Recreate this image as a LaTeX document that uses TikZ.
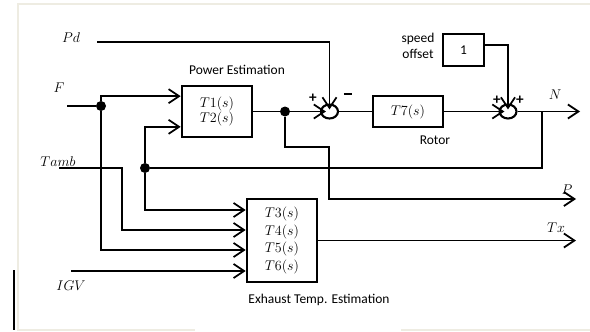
\documentclass[tikz,border=0pt]{standalone}
\usepackage{fontspec}
\setmainfont{Carlito}
\usetikzlibrary{arrows.meta,shapes.geometric}
\definecolor{framegray}{RGB}{238,236,226}

\begin{document}
\begin{tikzpicture}[x=0.03cm,y=-0.03cm,>={Straight Barb[length=9pt,width=12pt]},
  every node/.append style={font=\fontsize{11.5}{13.5}\selectfont},
  wire/.style={line width=1.5pt},
  blk/.style={draw,line width=2.2pt,align=center,inner sep=0pt},
  sumj/.style={draw,ellipse,line width=1.8pt,minimum width=5.1mm,minimum height=4.2mm,inner sep=0pt},
  dot/.style={circle,fill=black,inner sep=0pt,minimum size=3mm},
  sign/.style={font=\bfseries\fontsize{13}{13}\selectfont}]
  \useasboundingbox (0,0) rectangle (590,331);
  \draw[framegray,line width=1.5pt] (195,330) -- (18,330) -- (18,4) -- (590,4);
  \draw[framegray,line width=1.5pt] (401,330) -- (590,330);
  \draw[line width=1.8pt] (14,270) -- (14,330);

  \node[blk,minimum width=21mm,minimum height=15.3mm] (pe) at (217,111.5) {$T1(s)$\\$T2(s)$};
  \node (pelab) at (237,70) {Power Estimation};
  \node[blk,minimum width=21mm,minimum height=24.9mm] (ex) at (282,240.5)
    {$T3(s)$\\[1.5pt]$T4(s)$\\[1.5pt]$T5(s)$\\[1.5pt]$T6(s)$};
  \node (exlab) at (319,300) {Exhaust Temp. Estimation};
  \node[blk,minimum width=21mm,minimum height=9.3mm] (rot) at (408,111.5) {$T7(s)$};
  \node (rotlab) at (435,140) {Rotor};
  \node[blk,minimum width=12.3mm,minimum height=9.6mm] (off) at (463.5,50) {1};
  \node[align=center] (offlab) at (418,46) {speed\\offset};

  \node[sumj] (s1) at (329.5,111.5) {};
  \node[sumj] (s2) at (508,111.5) {};
  \node[sign] at (313,98) {+};
  \node[sign] at (348,96) {\rule[0.25em]{0.55em}{1.6pt}};
  \node[sign] at (497,100) {+};
  \node[sign] at (520,100) {+};

  \node[dot] (dF) at (101,106) {};
  \node[dot] (dT) at (145,168) {};
  \node[dot] (dP) at (285,111.5) {};

  \node (pdlab) at (71,38) {$Pd$};
  \node (flab) at (59,88) {$F$};
  \node (tlab) at (58,162) {$Tamb$};
  \node (iglab) at (71,286) {$IGV$};
  \node (nlab) at (555,95) {$N$};
  \node (plab) at (567,190) {$P$};
  \node (txlab) at (556,228) {$Tx$};

  \coordinate (pdin) at (97,42);
  \coordinate (fin) at (67,106);
  \coordinate (tin) at (59,168);
  \coordinate (tbend) at (122,168);
  \coordinate (iin) at (71,271);
  \coordinate (pbend) at (329,147);
  \coordinate (pout) at (576,199);
  \coordinate (txout) at (576,240.5);
  \coordinate (nfb) at (542,111.5);
  \coordinate (nout) at (580,111.5);

  \draw[wire,->,shorten >=-1.8mm] (pdin) -| (s1.north);
  \draw[wire] (fin) -- (dF);
  \draw[wire,->] (dF) |- ([yshift=4.6mm]pe.west);
  \draw[wire,->] (dT) |- ([yshift=-4.6mm]pe.west);
  \draw[wire,->] (dT) |- ([yshift=9.15mm]ex.west);
  \draw[wire,->] (tin) -- (tbend) |- ([yshift=3.15mm]ex.west);
  \draw[wire,->] (dF) |- ([yshift=-2.85mm]ex.west);
  \draw[wire,->] (iin) -- (iin -| ex.west);
  \draw[wire] (pe) -- (dP);
  \draw[wire,->,shorten >=-1.8mm] (dP) -- (s1);
  \draw[wire,->] (dP) |- (pbend) |- (pout);
  \draw[wire,->] (ex) -- (txout);
  \draw[wire] (s1) -- (rot);
  \draw[wire,->,shorten >=-1.8mm] (rot) -- (s2);
  \draw[wire,->,shorten >=-1.8mm] ([yshift=1.5mm]off.east) -| (s2.north);
  \draw[wire,->] (s2) -- (nout);
  \draw[wire] (nfb) |- (dT);
\end{tikzpicture}
\end{document}
